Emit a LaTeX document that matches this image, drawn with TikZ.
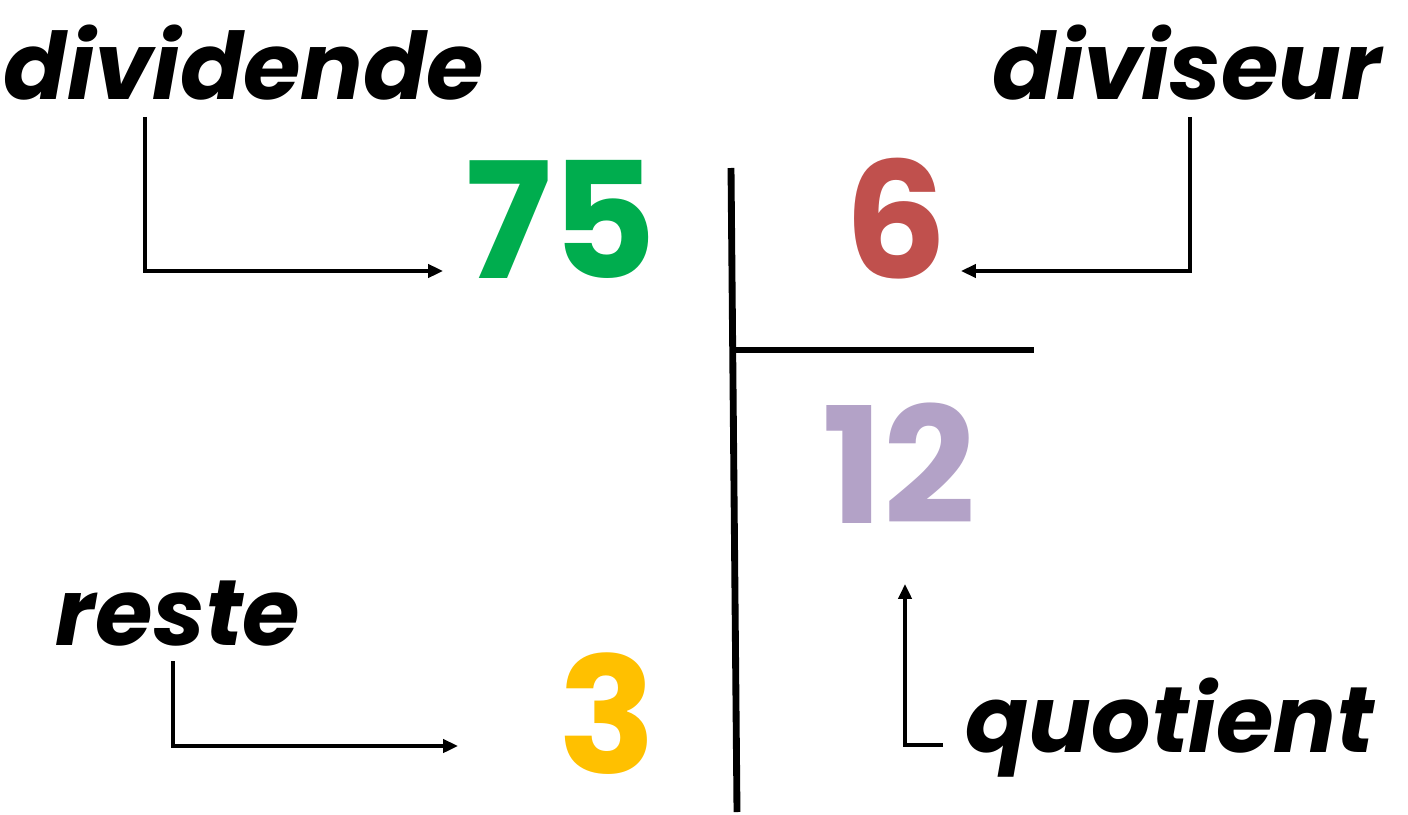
\documentclass[tikz,border=0pt]{standalone}
\usepackage{fontspec}
\setmainfont{Poppins}
\usepackage[dvipsnames,svgnames,x11names]{xcolor}
\usetikzlibrary{arrows.meta}

\definecolor{vertDiv}{HTML}{00AD4E}
\definecolor{rougeDiv}{HTML}{C0504D}
\definecolor{mauveDiv}{HTML}{B3A2C7}
\definecolor{jauneDiv}{HTML}{FFC000}

\tikzset{
  mot/.style={anchor=base, font=\fontsize{53}{56}\selectfont\bfseries\itshape},
  nombre/.style={anchor=base, text depth=0pt, inner sep=1pt, font=\fontsize{92}{96}\selectfont\bfseries},
  fleche/.style={line width=2.1pt, -{Triangle[length=8.5pt,width=7.5pt]}},
  potence/.style={line width=3.9pt}
}

\begin{document}
\begin{tikzpicture}[x=0.02cm, y=-0.02cm]
  \useasboundingbox (0,0) rectangle (1408,814);

  % Les mots (étiquettes)
  \node[mot] (dividende) at (244,100) {dividende};
  \node[mot] (diviseur)  at (1187,100) {diviseur};
  \node[mot] (reste)     at (178,645) {reste};
  \node[mot] (quotient)  at (1170,752) {quotient};

  % Les nombres de la division
  \node[nombre, text=vertDiv]  (n75) at (561,278) {75};
  \node[nombre, text=rougeDiv] (n6)  at (896,278) {6};
  \node[nombre, text=mauveDiv] (n12) at (899,523) {12};
  \node[nombre, text=jauneDiv] (n3)  at (607,773) {3};

  % La potence
  \coordinate (haut) at (731,168);
  \coordinate (bas)  at (737,812);
  \coordinate (barreG) at (734,350);
  \coordinate (barreD) at (1034,350);
  \draw[potence] (haut) -- (bas);
  \draw[potence] (barreG) -- (barreD);

  % Les flèches
  \coordinate (depDividende) at (145,117);
  \coordinate (finDividende) at (443,271);
  \coordinate (depDiviseur)  at (1190,117);
  \coordinate (finDiviseur)  at (961,271);
  \coordinate (depReste)     at (173,661);
  \coordinate (finReste)     at (458,746);
  \coordinate (depQuotient)  at (943,745);
  \coordinate (finQuotient)  at (905,584);
  \draw[fleche] (depDividende) |- (finDividende);
  \draw[fleche] (depDiviseur) |- (finDiviseur);
  \draw[fleche] (depReste) |- (finReste);
  \draw[fleche] (depQuotient) -| (finQuotient);

\end{tikzpicture}
\end{document}
